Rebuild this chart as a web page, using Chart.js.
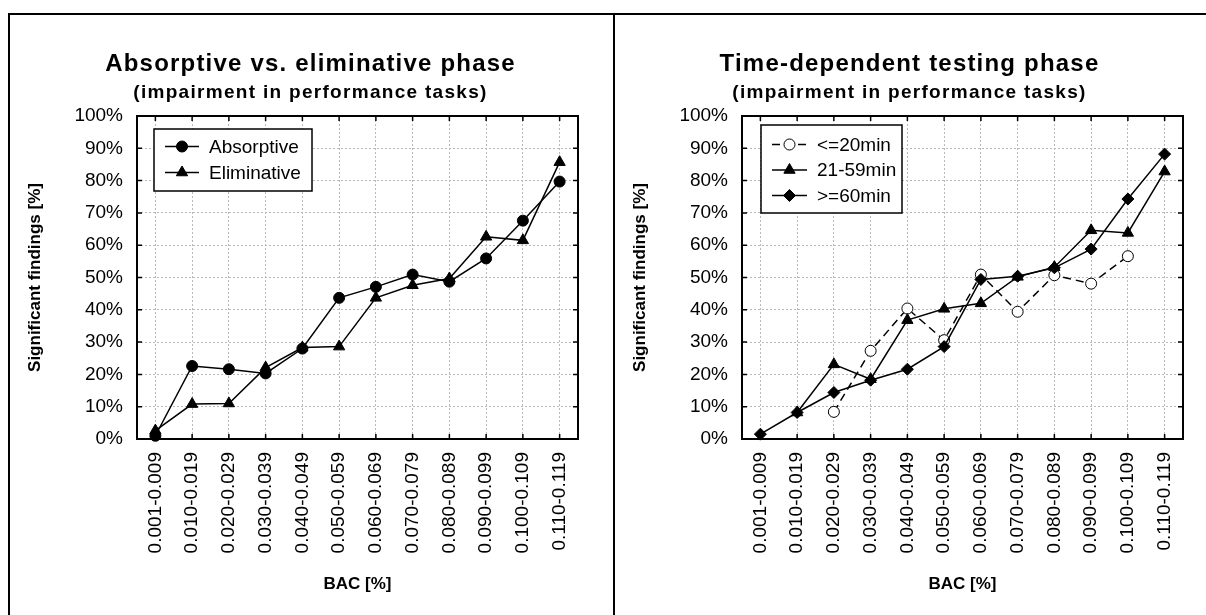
<!DOCTYPE html>
<html>
<head>
<meta charset="utf-8">
<script src="https://cdn.jsdelivr.net/npm/chart.js@4/dist/chart.umd.min.js"></script>
<style>
  html, body { margin: 0; padding: 0; background: #fff; width: 1206px; height: 615px; overflow: hidden; }
  .panel { position: absolute; top: 13px; height: 602px; border-top: 2px solid #000; border-left: 2px solid #000; box-sizing: border-box; }
  #panelLeft { left: 8px; width: 605px; }
  #panelRight { left: 613px; width: 593px; }
  canvas { position: absolute; top: 0; left: 0; }
</style>
</head>
<body>
<div class="panel" id="panelLeft"><canvas id="phaseChart" width="603" height="600"></canvas></div>
<div class="panel" id="panelRight"><canvas id="timeChart" width="591" height="600"></canvas></div>
<script>
// BAC classes on the x axis
const bacRanges = ['0.001-0.009', '0.010-0.019', '0.020-0.029', '0.030-0.039', '0.040-0.049', '0.050-0.059',
                   '0.060-0.069', '0.070-0.079', '0.080-0.089', '0.090-0.099', '0.100-0.109', '0.110-0.119'];

// Share of significant findings [%] by drinking phase
const absorptive  = [1.0, 22.6, 21.6, 20.3, 28.0, 43.7, 47.1, 50.9, 48.7, 55.9, 67.6, 79.7];
const eliminative = [2.6, 10.8, 11.0, 22.1, 28.3, 28.6, 43.7, 47.6, 49.7, 62.6, 61.5, 85.7];

// Share of significant findings [%] by time between drinking and testing
const upTo20min   = [null, null, 8.4, 27.3, 40.4, 30.6, 50.9, 39.4, 50.7, 48.1, 56.6, null];
const from21to59  = [null, 8.2, 23.1, 18.5, 36.8, 40.3, 42.0, 50.2, 53.2, 64.6, 63.8, 82.8];
const from60min   = [1.5, 8.2, 14.4, 18.2, 21.6, 28.6, 49.4, 50.4, 53.0, 58.8, 74.3, 88.2];

// Y axis range and step [%]
const percentMin = 0;
const percentMax = 100;
const percentStep = 10;

const FONT = '"Liberation Sans", Arial, Helvetica, sans-serif';

// Heading (title + subtitle) centred over the whole panel
const headingPlugin = {
  id: 'heading',
  afterDraw(chart, args, o) {
    const ctx = chart.ctx;
    ctx.save();
    ctx.fillStyle = '#000';
    ctx.textAlign = 'center';
    ctx.textBaseline = 'alphabetic';
    ctx.font = 'bold 24px ' + FONT;
    ctx.letterSpacing = '1.2px';
    ctx.fillText(o.title, o.centerX, o.titleY);
    ctx.font = 'bold 19px ' + FONT;
    ctx.letterSpacing = '1.3px';
    ctx.fillText(o.subtitle, o.centerX, o.subtitleY);
    ctx.restore();
  }
};

// Plot frame with inward tick marks on all four sides
const framePlugin = {
  id: 'frame',
  beforeDatasetsDraw(chart) {
    const { ctx, chartArea: a, scales: { x, y } } = chart;
    const t = 5;
    ctx.save();
    ctx.strokeStyle = '#000';
    ctx.lineWidth = 1.5;
    ctx.beginPath();
    x.ticks.forEach((_, i) => {
      const px = x.getPixelForTick(i);
      ctx.moveTo(px, a.bottom); ctx.lineTo(px, a.bottom - t);
      ctx.moveTo(px, a.top); ctx.lineTo(px, a.top + t);
    });
    y.ticks.forEach((_, i) => {
      const py = y.getPixelForTick(i);
      ctx.moveTo(a.left, py); ctx.lineTo(a.left + t, py);
      ctx.moveTo(a.right, py); ctx.lineTo(a.right - t, py);
    });
    ctx.stroke();
    ctx.lineWidth = 2;
    ctx.strokeRect(a.left, a.top, a.right - a.left, a.bottom - a.top);
    ctx.restore();
  }
};

function markerPath(ctx, style, r, x, y) {
  ctx.beginPath();
  if (style === 'triangle') {
    ctx.moveTo(x, y - r);
    ctx.lineTo(x + Math.sin(2 * Math.PI / 3) * r, y + r / 2);
    ctx.lineTo(x - Math.sin(2 * Math.PI / 3) * r, y + r / 2);
    ctx.closePath();
  } else if (style === 'rectRot') {
    ctx.moveTo(x, y - r); ctx.lineTo(x + r, y); ctx.lineTo(x, y + r); ctx.lineTo(x - r, y);
    ctx.closePath();
  } else {
    ctx.arc(x, y, r, 0, Math.PI * 2);
  }
}

// Boxed legend inside the plot: line sample with marker, then label
const boxLegendPlugin = {
  id: 'boxLegend',
  afterDatasetsDraw(chart, args, o) {
    const { ctx, chartArea: a } = chart;
    const bx = a.left + o.dx, by = a.top + o.dy;
    ctx.save();
    ctx.fillStyle = '#fff';
    ctx.fillRect(bx, by, o.width, o.height);
    ctx.strokeStyle = '#000';
    ctx.lineWidth = 1.5;
    ctx.strokeRect(bx, by, o.width, o.height);
    ctx.font = '19px ' + FONT;
    ctx.textAlign = 'left';
    ctx.textBaseline = 'middle';
    chart.data.datasets.forEach((ds, i) => {
      const cy = by + o.firstRow + i * o.rowGap;
      ctx.setLineDash(ds.borderDash || []);
      ctx.strokeStyle = ds.borderColor;
      ctx.lineWidth = ds.borderWidth;
      ctx.beginPath();
      ctx.moveTo(bx + o.lineStart, cy);
      ctx.lineTo(bx + o.lineEnd, cy);
      ctx.stroke();
      ctx.setLineDash([]);
      ctx.fillStyle = ds.pointBackgroundColor;
      ctx.strokeStyle = ds.pointBorderColor;
      ctx.lineWidth = ds.pointBorderWidth;
      markerPath(ctx, ds.pointStyle, ds.pointRadius, bx + (o.lineStart + o.lineEnd) / 2, cy);
      ctx.fill();
      ctx.stroke();
      ctx.fillStyle = '#000';
      ctx.fillText(ds.label, bx + o.textX, cy + 1);
    });
    ctx.restore();
  }
};

function series(label, data, style, radius, extra) {
  return Object.assign({
    label, data,
    borderColor: '#000', borderWidth: 1.5,
    pointStyle: style, pointRadius: radius, pointHoverRadius: radius,
    pointBackgroundColor: '#000', pointBorderColor: '#000', pointBorderWidth: 1,
    tension: 0, clip: false, spanGaps: false
  }, extra || {});
}

function axes() {
  const grid = { color: '#b8b8b8', lineWidth: 1, drawTicks: false, offset: false };
  const border = { display: false, dash: [2, 2] };
  return {
    x: {
      type: 'category', offset: true,
      grid, border,
      ticks: { color: '#000', font: { family: FONT, size: 19 }, minRotation: 90, maxRotation: 90, padding: 13, autoSkip: false },
      title: { display: true, text: 'BAC [%]', color: '#000', font: { family: FONT, size: 17, weight: 'bold' }, padding: { top: 0, bottom: 20 } },
      afterFit(s) { s.height = 176; }
    },
    y: {
      min: percentMin, max: percentMax,
      grid, border,
      ticks: { stepSize: percentStep, color: '#000', font: { family: FONT, size: 19 }, padding: 14, callback: v => v + '%' },
      title: { display: true, text: 'Significant findings [%]', color: '#000', font: { family: FONT, size: 17, weight: 'bold' }, padding: { top: 15, bottom: 0 } },
      afterFit(s) { s.width = 127; }
    }
  };
}

function baseOptions(canvasWidth, heading, legendBox) {
  return {
    responsive: false,
    animation: false,
    events: [],
    layout: { padding: { top: 101, left: 0, right: canvasWidth - 568, bottom: 0 } },
    scales: axes(),
    plugins: {
      legend: { display: false },
      tooltip: { enabled: false },
      heading,
      boxLegend: legendBox
    }
  };
}

new Chart(document.getElementById('phaseChart'), {
  type: 'line',
  data: {
    labels: bacRanges,
    datasets: [
      series('Absorptive', absorptive, 'circle', 5.5, { order: 1 }),
      series('Eliminative', eliminative, 'triangle', 6.5, { order: 2 })
    ]
  },
  options: baseOptions(603,
    { title: 'Absorptive vs. eliminative phase', subtitle: '(impairment in performance tasks)', centerX: 300.5, titleY: 56, subtitleY: 83 },
    { dx: 17, dy: 13, width: 158, height: 62, firstRow: 17.5, rowGap: 26, lineStart: 11, lineEnd: 45, textX: 55 }),
  plugins: [headingPlugin, framePlugin, boxLegendPlugin]
});

new Chart(document.getElementById('timeChart'), {
  type: 'line',
  data: {
    labels: bacRanges,
    datasets: [
      series('<=20min', upTo20min, 'circle', 5.5, { order: 3, borderDash: [8, 5], pointBackgroundColor: '#fff' }),
      series('21-59min', from21to59, 'triangle', 6.5, { order: 2 }),
      series('>=60min', from60min, 'rectRot', 6, { order: 1 })
    ]
  },
  options: baseOptions(591,
    { title: 'Time-dependent testing phase', subtitle: '(impairment in performance tasks)', centerX: 294.5, titleY: 56, subtitleY: 83 },
    { dx: 19, dy: 9, width: 141, height: 88, firstRow: 19.5, rowGap: 25.5, lineStart: 11, lineEnd: 46, textX: 56 }),
  plugins: [headingPlugin, framePlugin, boxLegendPlugin]
});
</script>
</body>
</html>
